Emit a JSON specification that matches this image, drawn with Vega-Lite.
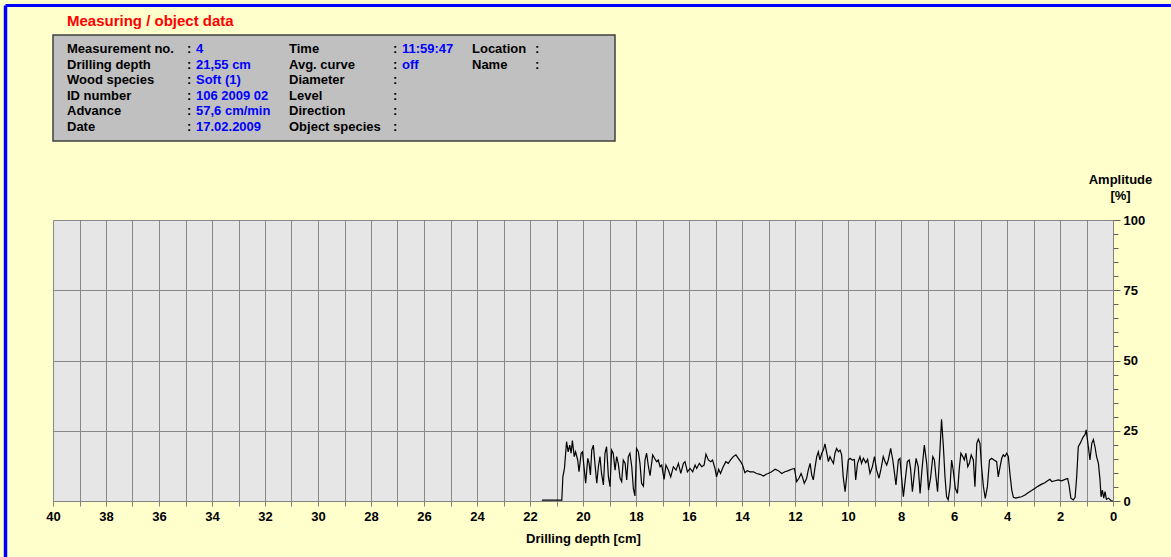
{
  "$schema": "https://vega.github.io/schema/vega-lite/v6.json",
  "width": 1060,
  "height": 281,
  "autosize": {"type": "none"},
  "padding": {"left": 53, "top": 220, "right": 58, "bottom": 56},
  "background": "#ffffcc",
  "config": {
    "font": "Liberation Sans",
    "view": {"fill": "#e6e6e6", "stroke": null}
  },
  "resolve": {"scale": {"x": "independent", "y": "independent", "color": "independent"}},
  "layer": [
    {
      "data": {
        "values": [
          {"depth": 21.55, "amp": 0.3}, {"depth": 20.80, "amp": 0.3}, {"depth": 20.76, "amp": 8.6}, {"depth": 20.70, "amp": 11.6},
          {"depth": 20.62, "amp": 21.1}, {"depth": 20.56, "amp": 17.5}, {"depth": 20.50, "amp": 19.9}, {"depth": 20.45, "amp": 17.0},
          {"depth": 20.40, "amp": 21.5}, {"depth": 20.33, "amp": 15.8}, {"depth": 20.28, "amp": 17.5}, {"depth": 20.20, "amp": 14.6},
          {"depth": 20.15, "amp": 10.4}, {"depth": 20.07, "amp": 17.0}, {"depth": 20.02, "amp": 17.5}, {"depth": 19.95, "amp": 11.0},
          {"depth": 19.90, "amp": 6.3}, {"depth": 19.82, "amp": 15.2}, {"depth": 19.77, "amp": 13.4}, {"depth": 19.72, "amp": 9.3},
          {"depth": 19.67, "amp": 18.1}, {"depth": 19.61, "amp": 19.9}, {"depth": 19.55, "amp": 13.4}, {"depth": 19.48, "amp": 6.3},
          {"depth": 19.42, "amp": 12.2}, {"depth": 19.36, "amp": 15.8}, {"depth": 19.30, "amp": 9.8}, {"depth": 19.23, "amp": 5.7},
          {"depth": 19.17, "amp": 17.0}, {"depth": 19.11, "amp": 19.3}, {"depth": 19.04, "amp": 8.6}, {"depth": 18.98, "amp": 5.1},
          {"depth": 18.92, "amp": 18.1}, {"depth": 18.86, "amp": 17.0}, {"depth": 18.79, "amp": 11.0}, {"depth": 18.73, "amp": 15.8},
          {"depth": 18.67, "amp": 13.4}, {"depth": 18.60, "amp": 8.1}, {"depth": 18.54, "amp": 6.9}, {"depth": 18.48, "amp": 14.6},
          {"depth": 18.41, "amp": 13.4}, {"depth": 18.35, "amp": 7.5}, {"depth": 18.29, "amp": 15.8}, {"depth": 18.23, "amp": 17.0},
          {"depth": 18.16, "amp": 12.2}, {"depth": 18.10, "amp": 4.5}, {"depth": 18.04, "amp": 1.8}, {"depth": 17.98, "amp": 18.7},
          {"depth": 17.91, "amp": 17.5}, {"depth": 17.85, "amp": 13.4}, {"depth": 17.79, "amp": 6.3}, {"depth": 17.72, "amp": 5.3},
          {"depth": 17.66, "amp": 14.6}, {"depth": 17.60, "amp": 17.0}, {"depth": 17.53, "amp": 12.2}, {"depth": 17.47, "amp": 9.0},
          {"depth": 17.37, "amp": 16.4}, {"depth": 17.30, "amp": 15.2}, {"depth": 17.22, "amp": 14.0}, {"depth": 17.16, "amp": 14.6},
          {"depth": 17.09, "amp": 12.2}, {"depth": 17.03, "amp": 12.8}, {"depth": 16.94, "amp": 7.7}, {"depth": 16.87, "amp": 12.8},
          {"depth": 16.78, "amp": 11.0}, {"depth": 16.69, "amp": 8.6}, {"depth": 16.59, "amp": 12.2}, {"depth": 16.49, "amp": 11.0},
          {"depth": 16.40, "amp": 13.4}, {"depth": 16.31, "amp": 9.8}, {"depth": 16.21, "amp": 13.4}, {"depth": 16.15, "amp": 14.0},
          {"depth": 16.06, "amp": 10.4}, {"depth": 15.96, "amp": 11.6}, {"depth": 15.86, "amp": 10.4}, {"depth": 15.77, "amp": 12.8},
          {"depth": 15.71, "amp": 11.6}, {"depth": 15.61, "amp": 13.4}, {"depth": 15.52, "amp": 12.2}, {"depth": 15.43, "amp": 12.8},
          {"depth": 15.36, "amp": 16.7}, {"depth": 15.27, "amp": 14.6}, {"depth": 15.18, "amp": 14.0}, {"depth": 15.11, "amp": 14.6},
          {"depth": 15.02, "amp": 11.6}, {"depth": 14.96, "amp": 8.6}, {"depth": 14.88, "amp": 11.3}, {"depth": 14.81, "amp": 9.8},
          {"depth": 14.71, "amp": 12.2}, {"depth": 14.61, "amp": 14.0}, {"depth": 14.52, "amp": 13.4}, {"depth": 14.43, "amp": 14.6},
          {"depth": 14.33, "amp": 15.8}, {"depth": 14.23, "amp": 16.4}, {"depth": 14.14, "amp": 15.2}, {"depth": 14.05, "amp": 14.0},
          {"depth": 13.98, "amp": 12.8}, {"depth": 13.89, "amp": 10.1}, {"depth": 13.80, "amp": 10.8}, {"depth": 13.70, "amp": 10.4},
          {"depth": 13.57, "amp": 10.4}, {"depth": 13.45, "amp": 9.8}, {"depth": 13.32, "amp": 9.5}, {"depth": 13.19, "amp": 8.9},
          {"depth": 13.07, "amp": 9.6}, {"depth": 13.01, "amp": 9.8}, {"depth": 12.88, "amp": 10.4}, {"depth": 12.75, "amp": 11.3},
          {"depth": 12.63, "amp": 10.8}, {"depth": 12.50, "amp": 9.8}, {"depth": 12.38, "amp": 10.4}, {"depth": 12.25, "amp": 10.8},
          {"depth": 12.13, "amp": 11.3}, {"depth": 12.02, "amp": 11.6}, {"depth": 11.94, "amp": 6.9}, {"depth": 11.85, "amp": 8.1},
          {"depth": 11.77, "amp": 9.8}, {"depth": 11.72, "amp": 8.6}, {"depth": 11.65, "amp": 6.3}, {"depth": 11.56, "amp": 8.1},
          {"depth": 11.50, "amp": 11.0}, {"depth": 11.43, "amp": 13.4}, {"depth": 11.37, "amp": 9.3}, {"depth": 11.31, "amp": 7.5},
          {"depth": 11.25, "amp": 11.6}, {"depth": 11.18, "amp": 15.8}, {"depth": 11.12, "amp": 17.5}, {"depth": 11.06, "amp": 14.6},
          {"depth": 10.99, "amp": 17.0}, {"depth": 10.93, "amp": 18.1}, {"depth": 10.87, "amp": 20.3}, {"depth": 10.80, "amp": 17.0},
          {"depth": 10.74, "amp": 14.0}, {"depth": 10.68, "amp": 15.8}, {"depth": 10.62, "amp": 14.6}, {"depth": 10.55, "amp": 13.4},
          {"depth": 10.49, "amp": 17.0}, {"depth": 10.43, "amp": 18.7}, {"depth": 10.36, "amp": 17.5}, {"depth": 10.30, "amp": 18.1},
          {"depth": 10.24, "amp": 16.4}, {"depth": 10.18, "amp": 8.6}, {"depth": 10.11, "amp": 3.3}, {"depth": 10.05, "amp": 8.6},
          {"depth": 9.99, "amp": 14.6}, {"depth": 9.92, "amp": 15.2}, {"depth": 9.84, "amp": 14.6}, {"depth": 9.76, "amp": 14.8},
          {"depth": 9.71, "amp": 7.5}, {"depth": 9.64, "amp": 13.4}, {"depth": 9.55, "amp": 15.8}, {"depth": 9.49, "amp": 13.4},
          {"depth": 9.42, "amp": 15.2}, {"depth": 9.33, "amp": 13.6}, {"depth": 9.26, "amp": 14.8}, {"depth": 9.17, "amp": 9.8},
          {"depth": 9.08, "amp": 12.2}, {"depth": 9.00, "amp": 15.8}, {"depth": 8.92, "amp": 11.0}, {"depth": 8.83, "amp": 8.1},
          {"depth": 8.75, "amp": 11.6}, {"depth": 8.67, "amp": 15.8}, {"depth": 8.60, "amp": 14.0}, {"depth": 8.54, "amp": 12.8},
          {"depth": 8.48, "amp": 14.6}, {"depth": 8.39, "amp": 18.7}, {"depth": 8.31, "amp": 14.6}, {"depth": 8.26, "amp": 11.0},
          {"depth": 8.19, "amp": 5.7}, {"depth": 8.10, "amp": 14.6}, {"depth": 8.04, "amp": 15.2}, {"depth": 7.97, "amp": 7.5},
          {"depth": 7.91, "amp": 1.5}, {"depth": 7.84, "amp": 7.5}, {"depth": 7.76, "amp": 14.0}, {"depth": 7.69, "amp": 14.6},
          {"depth": 7.64, "amp": 11.6}, {"depth": 7.57, "amp": 3.3}, {"depth": 7.51, "amp": 8.6}, {"depth": 7.43, "amp": 15.2},
          {"depth": 7.35, "amp": 12.2}, {"depth": 7.28, "amp": 2.7}, {"depth": 7.21, "amp": 11.0}, {"depth": 7.12, "amp": 19.9},
          {"depth": 7.03, "amp": 13.4}, {"depth": 6.96, "amp": 3.9}, {"depth": 6.88, "amp": 8.6}, {"depth": 6.80, "amp": 15.8},
          {"depth": 6.74, "amp": 14.6}, {"depth": 6.68, "amp": 8.6}, {"depth": 6.62, "amp": 3.3}, {"depth": 6.53, "amp": 18.1},
          {"depth": 6.47, "amp": 29.1}, {"depth": 6.40, "amp": 19.3}, {"depth": 6.34, "amp": 8.6}, {"depth": 6.28, "amp": 1.5},
          {"depth": 6.22, "amp": 0.4}, {"depth": 6.15, "amp": 5.1}, {"depth": 6.09, "amp": 14.6}, {"depth": 6.03, "amp": 11.0},
          {"depth": 5.95, "amp": 4.5}, {"depth": 5.87, "amp": 2.7}, {"depth": 5.80, "amp": 11.6}, {"depth": 5.74, "amp": 17.0},
          {"depth": 5.67, "amp": 15.8}, {"depth": 5.61, "amp": 14.6}, {"depth": 5.55, "amp": 17.0}, {"depth": 5.48, "amp": 12.2},
          {"depth": 5.42, "amp": 13.4}, {"depth": 5.35, "amp": 16.4}, {"depth": 5.27, "amp": 14.6}, {"depth": 5.21, "amp": 5.1},
          {"depth": 5.14, "amp": 20.5}, {"depth": 5.08, "amp": 22.0}, {"depth": 5.02, "amp": 20.5}, {"depth": 4.96, "amp": 12.2},
          {"depth": 4.89, "amp": 5.1}, {"depth": 4.82, "amp": 0.9}, {"depth": 4.74, "amp": 5.1}, {"depth": 4.66, "amp": 14.6},
          {"depth": 4.58, "amp": 15.2}, {"depth": 4.49, "amp": 14.6}, {"depth": 4.39, "amp": 14.0}, {"depth": 4.33, "amp": 8.6},
          {"depth": 4.26, "amp": 12.2}, {"depth": 4.20, "amp": 15.2}, {"depth": 4.14, "amp": 16.4}, {"depth": 4.08, "amp": 15.8},
          {"depth": 4.01, "amp": 17.0}, {"depth": 3.95, "amp": 15.8}, {"depth": 3.89, "amp": 9.8}, {"depth": 3.82, "amp": 3.9},
          {"depth": 3.76, "amp": 1.3}, {"depth": 3.67, "amp": 1.0}, {"depth": 3.57, "amp": 1.3}, {"depth": 3.45, "amp": 1.5},
          {"depth": 3.32, "amp": 2.1}, {"depth": 3.19, "amp": 3.0}, {"depth": 3.07, "amp": 3.7}, {"depth": 2.94, "amp": 4.5},
          {"depth": 2.82, "amp": 5.3}, {"depth": 2.69, "amp": 6.0}, {"depth": 2.57, "amp": 6.5}, {"depth": 2.47, "amp": 7.2},
          {"depth": 2.38, "amp": 7.7}, {"depth": 2.31, "amp": 6.9}, {"depth": 2.19, "amp": 7.2}, {"depth": 2.06, "amp": 7.5},
          {"depth": 1.94, "amp": 7.2}, {"depth": 1.81, "amp": 7.7}, {"depth": 1.71, "amp": 8.0}, {"depth": 1.66, "amp": 5.7},
          {"depth": 1.59, "amp": 1.0}, {"depth": 1.50, "amp": 0.4}, {"depth": 1.43, "amp": 1.3}, {"depth": 1.37, "amp": 8.6},
          {"depth": 1.31, "amp": 19.3}, {"depth": 1.24, "amp": 20.5}, {"depth": 1.18, "amp": 21.7}, {"depth": 1.12, "amp": 22.9},
          {"depth": 1.06, "amp": 23.5}, {"depth": 1.01, "amp": 25.3}, {"depth": 0.98, "amp": 22.9}, {"depth": 0.93, "amp": 19.3},
          {"depth": 0.87, "amp": 14.6}, {"depth": 0.80, "amp": 20.5}, {"depth": 0.74, "amp": 21.9}, {"depth": 0.68, "amp": 19.3},
          {"depth": 0.62, "amp": 15.8}, {"depth": 0.55, "amp": 13.4}, {"depth": 0.49, "amp": 7.5}, {"depth": 0.45, "amp": 1.5},
          {"depth": 0.40, "amp": 3.9}, {"depth": 0.35, "amp": 1.0}, {"depth": 0.30, "amp": 3.3}, {"depth": 0.25, "amp": 0.6},
          {"depth": 0.17, "amp": 1.0}, {"depth": 0.07, "amp": 0.1}, {"depth": 0.00, "amp": 0.0}
        ]
      },
      "mark": {"type": "line", "color": "#000000", "strokeWidth": 1.2},
      "encoding": {
        "x": {
          "field": "depth",
          "type": "quantitative",
          "scale": {"domain": [0, 40], "reverse": true, "nice": false, "zero": false},
          "axis": {
            "values": [0,1,2,3,4,5,6,7,8,9,10,11,12,13,14,15,16,17,18,19,20,21,22,23,24,25,26,27,28,29,30,31,32,33,34,35,36,37,38,39,40],
            "labelExpr": "datum.value % 2 === 0 ? datum.label : ''",
            "grid": true,
            "gridColor": "#888888",
            "gridWidth": 1,
            "domainColor": "#808080",
            "tickColor": "#808080",
            "tickSize": 5,
            "labelFontSize": 13,
            "labelFontWeight": "bold",
            "labelColor": "#000000",
            "labelPadding": 4,
            "labelFlush": false,
            "labelOverlap": false,
            "title": "Drilling depth [cm]",
            "titleFontSize": 13,
            "titleFontWeight": "bold",
            "titleColor": "#000000",
            "titlePadding": 9
          }
        },
        "y": {
          "field": "amp",
          "type": "quantitative",
          "scale": {"domain": [0, 100], "nice": false},
          "axis": {
            "orient": "right",
            "values": [0,5,10,15,20,25,30,35,40,45,50,55,60,65,70,75,80,85,90,95,100],
            "labelExpr": "datum.value % 25 === 0 ? datum.label : ''",
            "grid": true,
            "gridColor": "#888888",
            "gridOpacity": {"condition": {"test": "datum.value % 25 === 0", "value": 1}, "value": 0},
            "tickSize": {"condition": {"test": "datum.value % 25 === 0", "value": 7}, "value": 5},
            "tickColor": "#606060",
            "domainColor": "#808080",
            "labelFontSize": 13,
            "labelFontWeight": "bold",
            "labelColor": "#000000",
            "labelPadding": 3,
            "labelFlush": false,
            "labelOverlap": false,
            "title": ["Amplitude", "[%]"],
            "titleAngle": 0,
            "titleAlign": "center",
            "titleBaseline": "top",
            "titleX": 7,
            "titleY": -47,
            "titleFontSize": 13,
            "titleFontWeight": "bold",
            "titleColor": "#000000",
            "titleLineHeight": 16
          }
        }
      }
    },
    {
      "layer": [
        {
          "data": {"values": [{}]},
          "mark": {"type": "rect", "fill": "#c0c0c0", "stroke": "#404040", "strokeWidth": 1.5},
          "encoding": {
            "x": {"datum": -1, "type": "quantitative", "axis": null,
                  "scale": {"domain": [-2,-1,0,1,2,3,4,5,6,7,8,9], "range": [-47.5,0,14,134,143,236,340,349,419,482,562,1118], "nice": false, "zero": false}},
            "x2": {"datum": 8},
            "y": {"datum": 0, "type": "quantitative", "axis": null,
                  "scale": {"domain": [-2,-1,0,1,6,7,8], "range": [-214.5,-199,-185,-171,-93,-79,337], "nice": false, "zero": false}},
            "y2": {"datum": 7}
          }
        },
        {
          "data": {
            "values": [
              {"row": 1, "col": 0, "text": "Measurement no.", "kind": "label"},
              {"row": 1, "col": 1, "text": ":", "kind": "label"},
              {"row": 1, "col": 2, "text": "4", "kind": "value"},
              {"row": 1, "col": 3, "text": "Time", "kind": "label"},
              {"row": 1, "col": 4, "text": ":", "kind": "label"},
              {"row": 1, "col": 5, "text": "11:59:47", "kind": "value"},
              {"row": 1, "col": 6, "text": "Location", "kind": "label"},
              {"row": 1, "col": 7, "text": ":", "kind": "label"},
              {"row": 2, "col": 0, "text": "Drilling depth", "kind": "label"},
              {"row": 2, "col": 1, "text": ":", "kind": "label"},
              {"row": 2, "col": 2, "text": "21,55 cm", "kind": "value"},
              {"row": 2, "col": 3, "text": "Avg. curve", "kind": "label"},
              {"row": 2, "col": 4, "text": ":", "kind": "label"},
              {"row": 2, "col": 5, "text": "off", "kind": "value"},
              {"row": 2, "col": 6, "text": "Name", "kind": "label"},
              {"row": 2, "col": 7, "text": ":", "kind": "label"},
              {"row": 3, "col": 0, "text": "Wood species", "kind": "label"},
              {"row": 3, "col": 1, "text": ":", "kind": "label"},
              {"row": 3, "col": 2, "text": "Soft (1)", "kind": "value"},
              {"row": 3, "col": 3, "text": "Diameter", "kind": "label"},
              {"row": 3, "col": 4, "text": ":", "kind": "label"},
              {"row": 4, "col": 0, "text": "ID number", "kind": "label"},
              {"row": 4, "col": 1, "text": ":", "kind": "label"},
              {"row": 4, "col": 2, "text": "106 2009 02", "kind": "value"},
              {"row": 4, "col": 3, "text": "Level", "kind": "label"},
              {"row": 4, "col": 4, "text": ":", "kind": "label"},
              {"row": 5, "col": 0, "text": "Advance", "kind": "label"},
              {"row": 5, "col": 1, "text": ":", "kind": "label"},
              {"row": 5, "col": 2, "text": "57,6 cm/min", "kind": "value"},
              {"row": 5, "col": 3, "text": "Direction", "kind": "label"},
              {"row": 5, "col": 4, "text": ":", "kind": "label"},
              {"row": 6, "col": 0, "text": "Date", "kind": "label"},
              {"row": 6, "col": 1, "text": ":", "kind": "label"},
              {"row": 6, "col": 2, "text": "17.02.2009", "kind": "value"},
              {"row": 6, "col": 3, "text": "Object species", "kind": "label"},
              {"row": 6, "col": 4, "text": ":", "kind": "label"}
            ]
          },
          "mark": {"type": "text", "align": "left", "baseline": "middle", "fontSize": 13, "fontWeight": "bold"},
          "encoding": {
            "x": {"field": "col", "type": "quantitative", "axis": null,
                  "scale": {"domain": [-2,-1,0,1,2,3,4,5,6,7,8,9], "range": [-47.5,0,14,134,143,236,340,349,419,482,562,1118], "nice": false, "zero": false}},
            "y": {"field": "row", "type": "quantitative", "axis": null,
                  "scale": {"domain": [-2,-1,0,1,6,7,8], "range": [-214.5,-199,-185,-171,-93,-79,337], "nice": false, "zero": false}},
            "text": {"field": "text"},
            "color": {"field": "kind", "type": "nominal", "legend": null,
                      "scale": {"domain": ["label", "value"], "range": ["#000000", "#0000ff"]}}
          }
        },
        {
          "data": {"values": [{"text": "Measuring / object data"}]},
          "mark": {"type": "text", "align": "left", "baseline": "middle", "fontSize": 15, "fontWeight": "bold", "color": "#ff0000"},
          "encoding": {
            "x": {"datum": 0, "type": "quantitative", "axis": null,
                  "scale": {"domain": [-2,-1,0,1,2,3,4,5,6,7,8,9], "range": [-47.5,0,14,134,143,236,340,349,419,482,562,1118], "nice": false, "zero": false}},
            "y": {"datum": -1, "type": "quantitative", "axis": null,
                  "scale": {"domain": [-2,-1,0,1,6,7,8], "range": [-214.5,-199,-185,-171,-93,-79,337], "nice": false, "zero": false}},
            "text": {"field": "text"}
          }
        },
        {
          "data": {"values": [{}]},
          "mark": {"type": "rule", "color": "#0000ff", "strokeWidth": 3.5},
          "encoding": {
            "x": {"datum": -2, "type": "quantitative", "axis": null,
                  "scale": {"domain": [-2,-1,0,1,2,3,4,5,6,7,8,9], "range": [-47.5,0,14,134,143,236,340,349,419,482,562,1118], "nice": false, "zero": false}},
            "y": {"datum": -2, "type": "quantitative", "axis": null,
                  "scale": {"domain": [-2,-1,0,1,6,7,8], "range": [-214.5,-199,-185,-171,-93,-79,337], "nice": false, "zero": false}},
            "y2": {"datum": 8}
          }
        },
        {
          "data": {"values": [{}]},
          "mark": {"type": "rule", "color": "#0000ff", "strokeWidth": 3},
          "encoding": {
            "x": {"datum": -2, "type": "quantitative", "axis": null,
                  "scale": {"domain": [-2,-1,0,1,2,3,4,5,6,7,8,9], "range": [-47.5,0,14,134,143,236,340,349,419,482,562,1118], "nice": false, "zero": false}},
            "x2": {"datum": 9},
            "y": {"datum": -2, "type": "quantitative", "axis": null,
                  "scale": {"domain": [-2,-1,0,1,6,7,8], "range": [-214.5,-199,-185,-171,-93,-79,337], "nice": false, "zero": false}}
          }
        }
      ]
    }
  ]
}
